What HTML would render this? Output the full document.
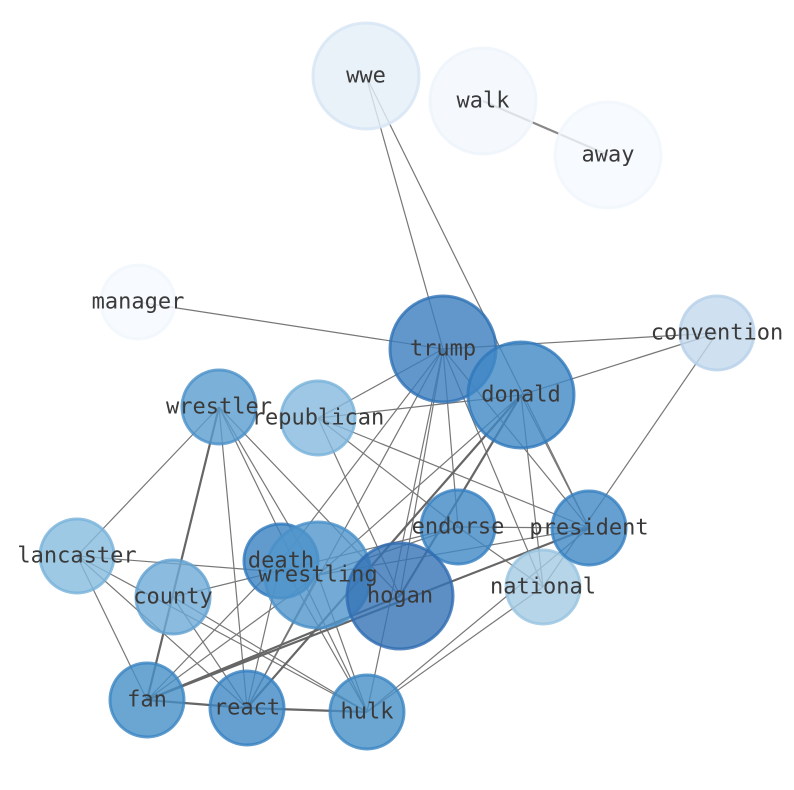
<!DOCTYPE html>
<html><head><meta charset="utf-8"><style>
html,body{margin:0;padding:0;background:#fff;width:794px;height:790px;overflow:hidden}
text{font-family:"DejaVu Sans Mono","Liberation Mono",monospace;font-size:22px;fill:#3a3a3a;text-anchor:middle;dominant-baseline:central}
</style></head><body>
<svg width="794" height="790" viewBox="0 0 794 790" xmlns="http://www.w3.org/2000/svg">
<g stroke="#777" stroke-width="1.2" fill="none">
<line x1="366" y1="76" x2="443" y2="349"/>
<line x1="366" y1="76" x2="589" y2="528"/>
<line x1="138" y1="302" x2="443" y2="349"/>
<line x1="443" y1="349" x2="717" y2="333"/>
<line x1="521" y1="395" x2="717" y2="333"/>
<line x1="717" y1="333" x2="543" y2="587"/>
<line x1="443" y1="349" x2="318" y2="418"/>
<line x1="443" y1="349" x2="458" y2="527"/>
<line x1="443" y1="349" x2="589" y2="528"/>
<line x1="443" y1="349" x2="543" y2="587"/>
<line x1="443" y1="349" x2="367" y2="712"/>
<line x1="443" y1="349" x2="281" y2="561"/>
<line x1="443" y1="349" x2="247" y2="708"/>
<line x1="443" y1="349" x2="400" y2="596"/>
<line x1="521" y1="395" x2="318" y2="418"/>
<line x1="521" y1="395" x2="589" y2="528"/>
<line x1="521" y1="395" x2="543" y2="587"/>
<line x1="521" y1="395" x2="318" y2="575"/>
<line x1="219" y1="407" x2="77" y2="556"/>
<line x1="219" y1="407" x2="247" y2="708"/>
<line x1="219" y1="407" x2="318" y2="575"/>
<line x1="219" y1="407" x2="400" y2="596"/>
<line x1="219" y1="407" x2="367" y2="712"/>
<line x1="318" y1="418" x2="400" y2="596"/>
<line x1="318" y1="418" x2="458" y2="527"/>
<line x1="318" y1="418" x2="589" y2="528"/>
<line x1="458" y1="527" x2="589" y2="528"/>
<line x1="458" y1="527" x2="543" y2="587"/>
<line x1="458" y1="527" x2="318" y2="575"/>
<line x1="589" y1="528" x2="318" y2="575"/>
<line x1="589" y1="528" x2="367" y2="712"/>
<line x1="77" y1="556" x2="318" y2="575"/>
<line x1="77" y1="556" x2="247" y2="708"/>
<line x1="77" y1="556" x2="367" y2="712"/>
<line x1="77" y1="556" x2="147" y2="700"/>
<line x1="173" y1="597" x2="458" y2="527"/>
<line x1="173" y1="597" x2="247" y2="708"/>
<line x1="173" y1="597" x2="367" y2="712"/>
<line x1="147" y1="700" x2="281" y2="561"/>
<line x1="247" y1="708" x2="318" y2="575"/>
<line x1="247" y1="708" x2="281" y2="561"/>
<line x1="367" y1="712" x2="281" y2="561"/>
<line x1="367" y1="712" x2="318" y2="575"/>
<line x1="367" y1="712" x2="543" y2="587"/>
<line x1="147" y1="700" x2="318" y2="575"/>
</g>
<g stroke="#666" stroke-width="2.2" fill="none">
<line x1="483" y1="101" x2="608" y2="155" stroke="#888"/>
<line x1="521" y1="395" x2="400" y2="596"/>
<line x1="521" y1="395" x2="247" y2="708"/>
<line x1="219" y1="407" x2="147" y2="700"/>
<line x1="589" y1="528" x2="147" y2="700"/>
<line x1="147" y1="700" x2="247" y2="708"/>
<line x1="247" y1="708" x2="367" y2="712"/>
<line x1="147" y1="700" x2="400" y2="596"/>
</g>
<g stroke-width="3" fill-opacity="0.8" stroke-opacity="0.8">
<circle cx="366" cy="76" r="53" fill="#e3edf8" stroke="#d6e5f4"/>
<circle cx="483" cy="101" r="53" fill="#f3f8fd" stroke="#eef4fb"/>
<circle cx="608" cy="155" r="53" fill="#f5f9fe" stroke="#f0f6fc"/>
<circle cx="138" cy="302" r="37" fill="#f5f9fe" stroke="#f0f6fc"/>
<circle cx="717" cy="333" r="37" fill="#c3d9ed" stroke="#b5d0ea"/>
<circle cx="219" cy="407" r="37" fill="#5a9ecf" stroke="#4a90c8"/>
<circle cx="318" cy="418" r="37" fill="#84b9dd" stroke="#77b1d9"/>
<circle cx="77" cy="556" r="37" fill="#84bbdf" stroke="#77b1d9"/>
<circle cx="173" cy="597" r="37" fill="#6eaad6" stroke="#60a0d0"/>
<circle cx="543" cy="587" r="37" fill="#a5cbe4" stroke="#97c3e0"/>
<circle cx="443" cy="349" r="53" fill="#3a7dbd" stroke="#2f72b5"/>
<circle cx="521" cy="395" r="53" fill="#4088c5" stroke="#2f78bb"/>
<circle cx="458" cy="527" r="37" fill="#4088c5" stroke="#3680c0"/>
<circle cx="589" cy="528" r="37" fill="#4088c5" stroke="#3680c0"/>
<circle cx="281" cy="561" r="37" fill="#3a82c2" stroke="#2f78bb"/>
<circle cx="318" cy="575" r="53" fill="#5096cc" stroke="#4a90c8"/>
<circle cx="400" cy="596" r="53" fill="#3573b5" stroke="#2f6cb0"/>
<circle cx="147" cy="700" r="37" fill="#4690c8" stroke="#3a85c2"/>
<circle cx="247" cy="708" r="37" fill="#3f88c5" stroke="#3680c0"/>
<circle cx="367" cy="712" r="37" fill="#4690c8" stroke="#3a85c2"/>
</g>
<g>
<text x="366" y="76">wwe</text>
<text x="483" y="101">walk</text>
<text x="608" y="155">away</text>
<text x="138" y="302">manager</text>
<text x="717" y="333">convention</text>
<text x="443" y="349">trump</text>
<text x="521" y="395">donald</text>
<text x="219" y="407">wrestler</text>
<text x="318" y="418">republican</text>
<text x="458" y="527">endorse</text>
<text x="589" y="528">president</text>
<text x="77" y="556">lancaster</text>
<text x="281" y="561">death</text>
<text x="318" y="575">wrestling</text>
<text x="400" y="596">hogan</text>
<text x="543" y="587">national</text>
<text x="173" y="597">county</text>
<text x="147" y="700">fan</text>
<text x="247" y="708">react</text>
<text x="367" y="712">hulk</text>
</g>
</svg>
</body></html>
